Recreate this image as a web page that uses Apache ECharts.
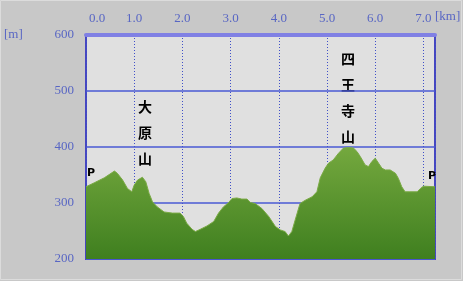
<!DOCTYPE html>
<html><head><meta charset="utf-8">
<script src="https://cdn.jsdelivr.net/npm/echarts@6/dist/echarts.min.js"></script>
<style>html,body{margin:0;padding:0;background:#c8c8c8;}#c{width:463px;height:281px;}</style>
</head><body><div id="c"></div>
<script>
// distance along route [km]
const distKm = [0, 0.17, 0.38, 0.59, 0.65, 0.76, 0.86, 0.95, 1.0, 1.07, 1.17, 1.24, 1.31, 1.38, 1.48, 1.62, 1.79, 1.95, 2.02, 2.09, 2.2, 2.27, 2.37, 2.51, 2.65, 2.75, 2.85, 2.96, 3.03, 3.13, 3.23, 3.34, 3.41, 3.51, 3.65, 3.79, 3.93, 4.03, 4.13, 4.2, 4.27, 4.34, 4.44, 4.55, 4.69, 4.79, 4.86, 4.96, 5.03, 5.13, 5.24, 5.34, 5.45, 5.55, 5.62, 5.69, 5.79, 5.86, 5.93, 6.0, 6.07, 6.14, 6.21, 6.31, 6.42, 6.48, 6.55, 6.62, 6.72, 6.87, 6.94, 7.0, 7.24];
// elevation [m]
const elevM = [329, 336, 345, 357, 353, 341, 326, 320, 332, 341, 346, 338, 317, 302, 293, 284, 282, 282, 276, 264, 253, 249, 253, 259, 267, 282, 293, 301, 308, 309, 307, 307, 301, 299, 290, 276, 258, 252, 249, 241, 249, 270, 299, 305, 311, 320, 345, 362, 371, 377, 389, 398, 399, 398, 392, 383, 368, 365, 374, 380, 371, 362, 359, 359, 353, 344, 329, 320, 320, 320, 326, 330, 329];
const xTicks = [0, 1, 2, 3, 4, 5, 6, 7];
const yTicks = [200, 300, 400, 500, 600];
const peakLabels = [{text: '大原山', km: 1.2}, {text: '四王寺山', km: 5.4}];

const chart = echarts.init(document.getElementById('c'));
const lblColor = '#5866c4';
const gfx = [
  {type:'rect', shape:{x:0.5, y:0.5, width:461, height:279}, style:{fill:'none', stroke:'#dcdcdc', lineWidth:1}, silent:true},
  {type:'text', left: 4, top: 28, style:{text:'[m]', fill: lblColor, font:'13px "Liberation Serif"'}},
  {type:'text', left: 435, top: 10, style:{text:'[km]', fill: lblColor, font:'13px "Liberation Serif"'}},
  {type:'text', left: 87, top: 168, style:{text:'P', fill:'#000', font:'bold 11px "DejaVu Sans"'}},
  {type:'text', left: 428, top: 171, style:{text:'P', fill:'#000', font:'bold 11px "DejaVu Sans"'}}
];
const peakPos = [{x:145, y:[107,133,159]}, {x:348, y:[59,85,111,137]}];
peakLabels.forEach((p, i) => {
  Array.from(p.text).forEach((ch, j) => {
    gfx.push({type:'text', x: peakPos[i].x, y: peakPos[i].y[j],
      style:{text: ch, fill:'#000', font:'bold 14px "Noto Sans CJK JP"', align:'center', verticalAlign:'middle'}});
  });
});
chart.setOption({
  backgroundColor: '#c8c8c8',
  animation: false,
  grid: {left: 86, right: 28, top: 35, bottom: 22, show: true, backgroundColor: '#e0e0e0', borderColor: '#4646c0', borderWidth: 2},
  xAxis: {
    type: 'value', position: 'top', min: 0, max: 7.24, interval: 1,
    axisLine: {show: true, onZero: false, lineStyle: {color: '#8080e4', width: 4}},
    axisTick: {show: false},
    axisLabel: {color: lblColor, fontSize: 13, fontFamily: 'Liberation Serif', margin: 10, showMaxLabel: false,
      formatter: v => (xTicks.indexOf(v) < 0 ? '' : (v === 0 ? '{a|0.0}' : v.toFixed(1))),
      rich: {a: {color: lblColor, fontSize: 13, fontFamily: 'Liberation Serif', padding: [0, 0, 0, 22]}}},
    splitLine: {show: true, lineStyle: {color: '#4050c8', width: 1, type: [1, 2]}}
  },
  yAxis: {
    type: 'value', min: 200, max: 600, interval: 100,
    axisLine: {show: false}, axisTick: {show: false},
    axisLabel: {color: lblColor, fontSize: 13, fontFamily: 'Liberation Serif', margin: 12,
      formatter: v => (yTicks.indexOf(v) >= 0 ? String(v) : '')},
    splitLine: {show: true, lineStyle: {color: '#4a5ad4', width: 1.5}}
  },
  series: [{
    type: 'line', data: distKm.map((d, i) => [d, elevM[i]]), symbol: 'none',
    lineStyle: {width: 1, color: '#7aaa44'},
    areaStyle: {origin: 'start', opacity: 1, color: new echarts.graphic.LinearGradient(0, 0, 0, 1, [
      {offset: 0, color: '#74a83e'}, {offset: 1, color: '#3f7f1f'}])},
    z: 1
  }],
  graphic: gfx
});
</script></body></html>
